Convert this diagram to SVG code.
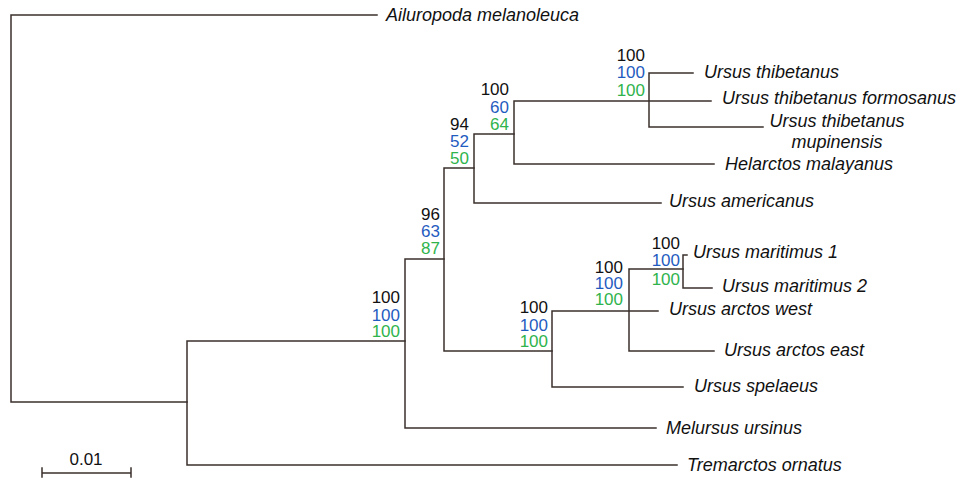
<svg xmlns="http://www.w3.org/2000/svg" width="962" height="485" viewBox="0 0 962 485">
<style>
.br{fill:none;stroke:#3a302c;stroke-width:1.5;stroke-linecap:square}
.lab{font-family:"Liberation Sans",Arial,sans-serif;font-style:italic;font-size:18px;fill:#111}
.bs{font-family:"Liberation Sans",Arial,sans-serif;font-size:17px;text-anchor:end}
.k{fill:#111}.b{fill:#1f5cc0}.g{fill:#2fb34c}
.sc{font-family:"Liberation Sans",Arial,sans-serif;font-size:17px;fill:#111;text-anchor:middle}
</style>
<rect width="962" height="485" fill="#fff"/>
<g id="connectors">
<path class="br" d="M11,15 V402 M11,15 H377 M11,402 H187"/>
<path class="br" d="M187,341 V465 M187,341 H405 M187,465 H677"/>
<path class="br" d="M405,259 V428 M405,259 H444 M405,428 H656"/>
<path class="br" d="M444,168 V351 M444,168 H474 M444,351 H552"/>
<path class="br" d="M474,134 V203 M474,134 H514 M474,203 H661"/>
<path class="br" d="M514,101 V164 M514,101 H711 M514,164 H714"/>
<path class="br" d="M649,73 V127 M649,73 H693 M649,127 H763"/>
<path class="br" d="M552,311 V387 M552,311 H658 M552,387 H683"/>
<path class="br" d="M629,269 V351 M629,269 H683 M629,351 H714"/>
<path class="br" d="M683,255 V288 M683,255 H687 M683,288 H712"/>
</g>
<g id="n_root"/>
<g id="n_ursidae" class="bs"><text x="400" y="303" class="k">100</text><text x="400" y="320.5" class="b">100</text><text x="400" y="337" class="g">100</text></g>
<g id="n_96" class="bs"><text x="440" y="220" class="k">96</text><text x="440" y="237" class="b">63</text><text x="440" y="254" class="g">87</text></g>
<g id="n_94" class="bs"><text x="469" y="130" class="k">94</text><text x="469" y="147" class="b">52</text><text x="469" y="164" class="g">50</text></g>
<g id="n_60" class="bs"><text x="509" y="95" class="k">100</text><text x="509" y="112.5" class="b">60</text><text x="509" y="130" class="g">64</text></g>
<g id="n_thib" class="bs"><text x="645" y="61" class="k">100</text><text x="645" y="78" class="b">100</text><text x="645" y="96" class="g">100</text></g>
<g id="n_brown" class="bs"><text x="548" y="313" class="k">100</text><text x="548" y="330.5" class="b">100</text><text x="548" y="347" class="g">100</text></g>
<g id="n_arctos" class="bs"><text x="623" y="273" class="k">100</text><text x="623" y="289" class="b">100</text><text x="623" y="305" class="g">100</text></g>
<g id="n_marit" class="bs"><text x="680" y="249" class="k">100</text><text x="680" y="266" class="b">100</text><text x="680" y="285" class="g">100</text></g>
<g id="leaf_ailuropoda"><text class="lab" x="386" y="21">Ailuropoda melanoleuca</text></g>
<g id="leaf_thibetanus"><text class="lab" x="704" y="78">Ursus thibetanus</text></g>
<g id="leaf_formosanus"><text class="lab" x="722" y="104">Ursus thibetanus formosanus</text></g>
<g id="leaf_mupinensis"><text class="lab" x="837" y="127" text-anchor="middle">Ursus thibetanus</text><text class="lab" x="837" y="148" text-anchor="middle">mupinensis</text></g>
<g id="leaf_helarctos"><text class="lab" x="725" y="170">Helarctos malayanus</text></g>
<g id="leaf_americanus"><text class="lab" x="669" y="207">Ursus americanus</text></g>
<g id="leaf_maritimus1"><text class="lab" x="693" y="258">Ursus maritimus 1</text></g>
<g id="leaf_maritimus2"><text class="lab" x="722" y="292">Ursus maritimus 2</text></g>
<g id="leaf_arctos_west"><text class="lab" x="669" y="315">Ursus arctos west</text></g>
<g id="leaf_arctos_east"><text class="lab" x="724" y="356">Ursus arctos east</text></g>
<g id="leaf_spelaeus"><text class="lab" x="694" y="392">Ursus spelaeus</text></g>
<g id="leaf_melursus"><text class="lab" x="666" y="434">Melursus ursinus</text></g>
<g id="leaf_tremarctos"><text class="lab" x="687" y="471">Tremarctos ornatus</text></g>
<g id="scalebar"><path class="br" d="M42,473 H131 M42,468 V477 M131,468 V477"/><text class="sc" x="86" y="465">0.01</text></g>
</svg>
